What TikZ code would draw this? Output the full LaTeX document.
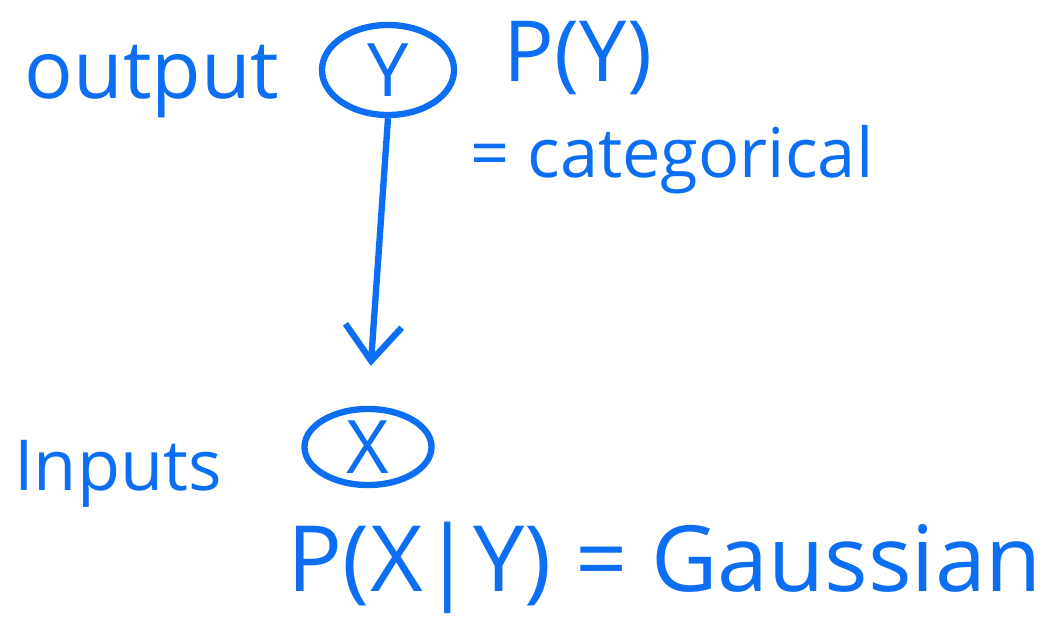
\documentclass[tikz,border=0pt]{standalone}
\usepackage{fontspec}
\setmainfont{Open Sans}
\usetikzlibrary{shapes.geometric,arrows.meta}
\definecolor{ink}{RGB}{12,110,242}
\tikzset{
  varnode/.style={draw=ink, line width=1.8pt, ellipse, inner sep=0pt, minimum width=#1},
  lbl/.style={text=ink, inner sep=0pt, font=\fontsize{23}{27}\selectfont},
  conn/.style={draw=ink, line width=1.8pt, -{Straight Barb[length=10pt,width=16pt,line width=1.8pt]}}
}
\begin{document}
\begin{tikzpicture}[x=0.01cm,y=-0.01cm]
\useasboundingbox (0,0) rectangle (1052,634);
\node[varnode=1.32cm, minimum height=0.9cm, lbl, font=\fontsize{21}{25}\selectfont] (Y) at (388,70) {Y};
\node[varnode=1.27cm, minimum height=0.76cm, lbl, font=\fontsize{21}{25}\selectfont] (X) at (368,447) {X};
\node[lbl] (out) at (152,82) {output};
\node[lbl, font=\fontsize{24}{28}\selectfont] (py) at (578,58) {P(Y)};
\node[lbl, font=\fontsize{19.5}{23}\selectfont] (cat) at (672,160) {= categorical};
\node[lbl, font=\fontsize{20}{24}\selectfont] (inp) at (118,474) {Inputs};
\node[lbl, font=\fontsize{26}{30}\selectfont] (pxy) at (665,568) {P(X|Y) = Gaussian};
\draw[conn, shorten >=0.4cm] (Y.south) -- (X.north);
\end{tikzpicture}
\end{document}
